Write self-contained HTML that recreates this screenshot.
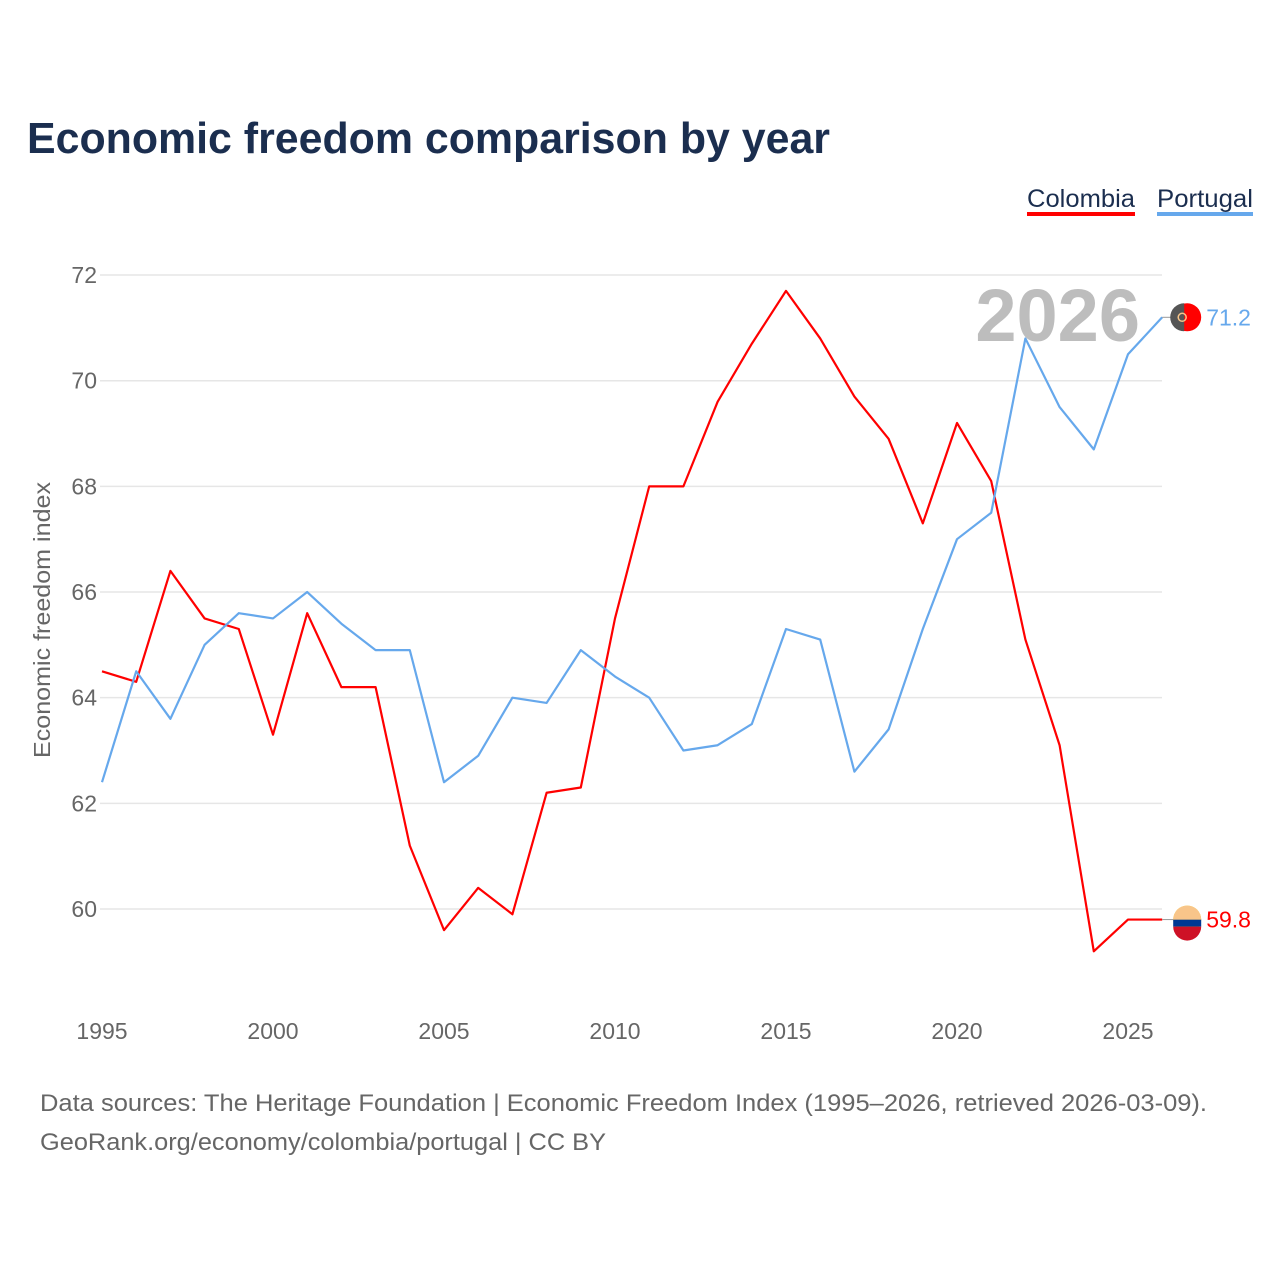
<!DOCTYPE html>
<html><head><meta charset="utf-8"><style>
body{margin:0;background:#fff;font-family:"Liberation Sans",sans-serif;}
#wrap{position:relative;width:1280px;height:1280px;overflow:hidden;}
</style></head><body>
<div id="wrap">
<svg id="chart" width="1280" height="1280">
<text x="27" y="153" font-size="44" font-weight="bold" fill="#1b2e4f" textLength="803" lengthAdjust="spacingAndGlyphs">Economic freedom comparison by year</text>
<g><text x="1027" y="207" font-size="25" fill="#1b2e4f" textLength="108" lengthAdjust="spacingAndGlyphs">Colombia</text><rect x="1027" y="212" width="108" height="4" fill="#ff0000"/></g>
<g><text x="1157" y="207" font-size="25" fill="#1b2e4f" textLength="96" lengthAdjust="spacingAndGlyphs">Portugal</text><rect x="1157" y="212" width="96" height="4" fill="#66a8ec"/></g>
<g id="grid"></g>
<g id="yt"></g>
<g id="xt"></g>
<text x="1140" y="341" text-anchor="end" font-size="74" font-weight="bold" fill="#bdbdbd">2026</text>
<text transform="translate(50,620) rotate(-90)" text-anchor="middle" font-size="23" fill="#666" textLength="276" lengthAdjust="spacingAndGlyphs">Economic freedom index</text>
<g id="series"></g>
<text x="40" y="1111" font-size="24" fill="#666" textLength="1167" lengthAdjust="spacingAndGlyphs">Data sources: The Heritage Foundation | Economic Freedom Index (1995–2026, retrieved 2026-03-09).</text>
<text x="40" y="1150" font-size="24" fill="#666" textLength="566" lengthAdjust="spacingAndGlyphs">GeoRank.org/economy/colombia/portugal | CC BY</text>
</svg></div>
<script>
const years=[];for(let y=1995;y<=2026;y++)years.push(y);
const colombia=[64.5,64.3,66.4,65.5,65.3,63.3,65.6,64.2,64.2,61.2,59.6,60.4,59.9,62.2,62.3,65.5,68.0,68.0,69.6,70.7,71.7,70.8,69.7,68.9,67.3,69.2,68.1,65.1,63.1,59.2,59.8,59.8];
const portugal=[62.4,64.5,63.6,65.0,65.6,65.5,66.0,65.4,64.9,64.9,62.4,62.9,64.0,63.9,64.9,64.4,64.0,63.0,63.1,63.5,65.3,65.1,62.6,63.4,65.3,67.0,67.5,70.8,69.5,68.7,70.5,71.2];
const yTicks=[60,62,64,66,68,70,72];
const xTicks=[1995,2000,2005,2010,2015,2020,2025];
const NS="http://www.w3.org/2000/svg";
const X=v=>102+(v-1995)*34.2;
const Y=v=>909-(v-60)*52.83;
function mk(t,a,p){const e=document.createElementNS(NS,t);for(const k in a)e.setAttribute(k,a[k]);p.appendChild(e);return e;}
const grid=document.getElementById('grid'),yt=document.getElementById('yt'),xt=document.getElementById('xt'),ser=document.getElementById('series');
yTicks.forEach(v=>{
 const l=mk('line',{x1:100,x2:1162,y1:Y(v),y2:Y(v),stroke:'#e6e6e6','stroke-width':1.5},grid);
 
 
 const t=mk('text',{x:97,y:Y(v)+8,'text-anchor':'end','font-size':23,fill:'#666'},yt);t.textContent=v;
 
 
});
xTicks.forEach(v=>{
 const t=mk('text',{x:X(v),y:1039,'text-anchor':'middle','font-size':23,fill:'#666'},xt);t.textContent=v;
 
 
});
function line(vals,col,name){
 const p=mk('polyline',{points:vals.map((v,i)=>X(years[i])+','+Y(v)).join(' '),fill:'none',stroke:col,'stroke-width':2.2,'stroke-linejoin':'round'},ser);
 
 
 const last=vals[vals.length-1],ly=Y(last),lx=X(years[years.length-1]);
 mk('line',{x1:lx,x2:lx+14,y1:ly,y2:ly,stroke:'#999','stroke-width':1},ser);
 const c=mk('circle',{cx:lx+25,cy:ly,r:14,fill:name=='colombia'?'#fcd116':'#ff0000'},ser);
 
 
 if(name=='colombia'){mk('rect',{x:lx+11,y:ly,width:28,height:7,fill:'#003893'},ser);mk('path',{d:`M${lx+11},${ly+7} h28 a14 14 0 0 1 -28 0z`,fill:'#ce1126'},ser);mk('path',{d:`M${lx+11},${ly} a14 14 0 0 1 28 0z`,fill:'#f8c58a'},ser);}
 else{mk('path',{d:`M${lx+22},${ly-14} a14 14 0 0 0 0 28z`,fill:'#555'},ser);mk('circle',{cx:lx+20,cy:ly,r:4,fill:'none',stroke:'#f8c58a','stroke-width':1.5},ser);}
 const t=mk('text',{x:lx+44,y:ly+8,'font-size':23,fill:col},ser);t.textContent=last.toFixed(1);
 
 
}
line(colombia,'#ff0000','colombia');
line(portugal,'#66a8ec','portugal');
</script></body></html>
